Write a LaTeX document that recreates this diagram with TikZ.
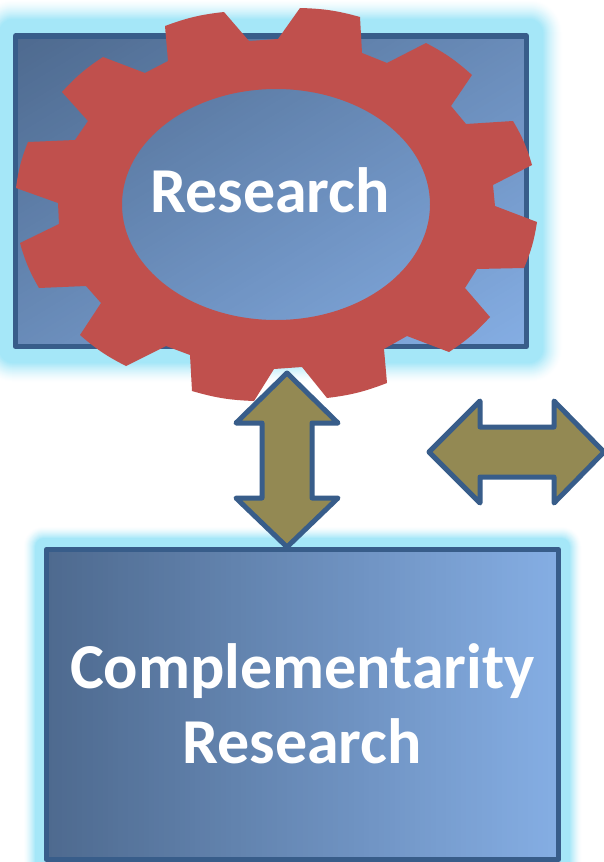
\documentclass[tikz,border=0pt]{standalone}
\usepackage{fontspec}
\setmainfont{Carlito}
\definecolor{fadeD}{HTML}{4E6A8F}
\definecolor{fadeL}{HTML}{85AEE4}
\definecolor{edgeB}{HTML}{385D8A}
\definecolor{glowC}{HTML}{A5E7F8}
\definecolor{gearR}{HTML}{C0504D}
\definecolor{arrowK}{HTML}{938953}
\tikzset{
  boxline/.style={draw=edgeB,line width=5.2pt,line join=round},
  arrowshape/.style={draw=edgeB,fill=arrowK,line width=5pt,line join=round},
  bigtext/.style={text=white,font=\fontsize{64}{64}\selectfont\bfseries,anchor=base,inner sep=0pt},
  tooth/.style={bend left=7}
}
\begin{document}
\begin{tikzpicture}[x=1pt,y=-1pt]
\path[use as bounding box] (0,0) rectangle (603,862);
\fill[white] (0,0) rectangle (603,862);
% glow of the upper box
\foreach \e in {34,33,...,14}{
  \pgfmathtruncatemacro{\p}{100*((34-\e)/20)^1.4}
  \fill[glowC!\p!white,rounded corners=\e pt] (13-\e,33-\e) rectangle (529+\e,349+\e);
}
% glow of the lower box
\foreach \e in {21,20,...,9}{
  \pgfmathtruncatemacro{\p}{100*((21-\e)/12)^1.4}
  \fill[glowC!\p!white,rounded corners=\e pt] (44-\e,547-\e) rectangle (561+\e,862+\e);
}
% upper box, diagonal gradient
\begin{scope}
  \clip (15.5,36) rectangle (526.5,346.5);
  \fill[fadeD] (15.5,36) rectangle (526.5,346.5);
  \foreach \i in {1,...,100}{
    \pgfmathsetmacro{\c}{\i/50}
    \pgfmathtruncatemacro{\p}{\i}
    \fill[fadeL!\p!fadeD]
      (15.5+\c*511,36) -- (15.5+3*511,36) -- (15.5+3*511,36+3*310.5)
      -- (15.5,36+3*310.5) -- (15.5,36+\c*310.5) -- cycle;
  }
\end{scope}
\draw[boxline] (15.5,36) rectangle (526.5,346.5);
% gear
\fill[gearR,even odd rule]
  (165,26) to[tooth] (224,12) -- (249,41) -- (278,39) -- (300,8)
  to[tooth] (360,17) -- (362,53) -- (387,63) -- (426,43)
  to[tooth] (472,75) -- (451,106) -- (466,124) -- (513,121)
  to[tooth] (532,165) -- (493,185) -- (495,206) -- (537,222)
  to[tooth] (524,268) -- (477,269) -- (465,288) -- (490,317)
  to[tooth] (449,352) -- (407,336) -- (384,349) -- (387,383)
  to[tooth] (327,398) -- (302,367) -- (274,369) -- (254,401)
  to[tooth] (192,391) -- (190,355) -- (166,346) -- (126,366)
  to[tooth] (80,335) -- (101,303) -- (86,286) -- (39,288)
  to[tooth] (20,243) -- (59,224) -- (58,203) -- (16,188)
  to[tooth] (28,142) -- (75,140) -- (88,121) -- (62,92)
  to[tooth] (103,57) -- (145,73) -- (168,61) -- cycle
  (276,204.5) ellipse [x radius=154pt,y radius=115.5pt];
\node[bigtext] (research) at (270,212) {Research};
% lower box, horizontal gradient
\begin{scope}
  \clip (46.5,549.5) rectangle (558.5,859.5);
  \foreach \i in {0,...,100}{
    \fill[fadeL!\i!fadeD] (46.5+\i*5.12,549.5) rectangle (560,859.5);
  }
\end{scope}
\draw[boxline] (46.5,549.5) rectangle (558.5,859.5);
\node[bigtext] (comp) at (302.5,688) {Complementarity};
\node[bigtext] (compb) at (302,763) {Research};
% double arrows
\draw[arrowshape] (287,373) -- (338,423) -- (312,423) -- (312,498) -- (338,498)
  -- (287,547) -- (236,498) -- (262,498) -- (262,423) -- (236,423) -- cycle;
\draw[arrowshape] (429,452) -- (480,401) -- (480,427) -- (554,427) -- (554,401)
  -- (604,452) -- (554,503) -- (554,477) -- (480,477) -- (480,503) -- cycle;
\end{tikzpicture}
\end{document}
